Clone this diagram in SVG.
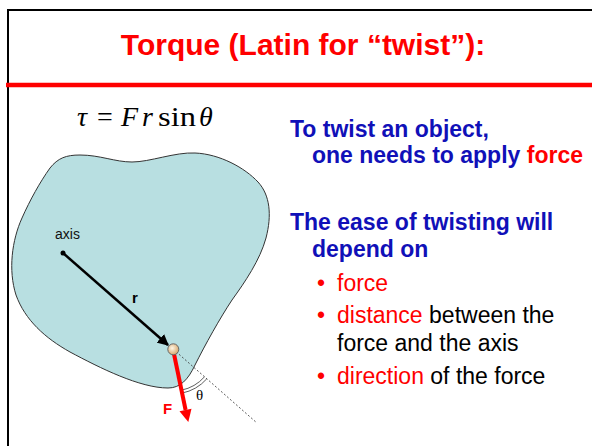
<svg xmlns="http://www.w3.org/2000/svg" width="592" height="446" viewBox="0 0 592 446">
  <style>
    .title { font-family: "Liberation Sans", Arial, sans-serif; font-weight: bold; font-size: 30px; fill: #ff0000; }
    .math { font-family: "Liberation Serif", "Times New Roman", serif; font-size: 28px; fill: #000; }
    .it { font-style: italic; }
    .bt { font-family: "Liberation Sans", Arial, sans-serif; font-weight: bold; font-size: 23px; fill: #1010b8; }
    .rt { font-family: "Liberation Sans", Arial, sans-serif; font-size: 23px; fill: #000; }
    .red { fill: #ff0000; }
    .lbl { font-family: "Liberation Sans", Arial, sans-serif; font-size: 14px; fill: #111; }
    .blbl { font-family: "Liberation Sans", Arial, sans-serif; font-weight: bold; font-size: 15px; }
  </style>
  <defs>
    <marker id="ah" viewBox="0 0 10 10" refX="9" refY="5" markerWidth="4.5" markerHeight="4.5" orient="auto">
      <path d="M0,0 L10,5 L0,10 z" fill="#000"/>
    </marker>
    <radialGradient id="pt" cx="40%" cy="40%" r="60%">
      <stop offset="0" stop-color="#fff6e6"/>
      <stop offset="1" stop-color="#d8aa70"/>
    </radialGradient>
  </defs>
  <rect width="592" height="446" fill="#fff"/>
  <!-- slide frame -->
  <rect x="8" y="10" width="600" height="460" fill="none" stroke="#000" stroke-width="2"/>
  <line x1="6" y1="85" x2="592" y2="85" stroke="#ff0000" stroke-width="4.5"/>
  <text class="title" x="303" y="55" text-anchor="middle">Torque (Latin for “twist”):</text>

  <!-- formula -->
  <g id="formula" class="math">
    <text x="77" y="126" class="it">τ</text>
    <text x="97" y="126">=</text>
    <text x="121" y="126" class="it">F</text>
    <text x="142" y="126" class="it">r</text>
    <text x="158" y="126" textLength="38" lengthAdjust="spacingAndGlyphs">sin</text>
    <text x="199" y="126" class="it">θ</text>
  </g>

  <!-- body -->
  <g id="body">
    <path d="M 50,168 C 58,158 66,155 80,155 C 100,155 115,162 132,162 C 150,162 175,152 195,153 C 220,154 245,168 258,182 C 270,195 272,215 266,238 C 260,260 245,282 232,300 C 220,318 205,345 195,365 C 188,380 180,388 168,388 C 140,388 100,368 70,352 C 45,338 25,320 16,295 C 8,270 12,240 22,218 C 30,200 40,182 50,168 Z" fill="#b8dfe1" stroke="#333" stroke-width="1"/>
  </g>

  <g id="axis">
    <circle cx="63" cy="253" r="2.5" fill="#000"/>
    <text class="lbl" x="55" y="239">axis</text>
  </g>

  <g id="connectors">
    <line x1="63" y1="253" x2="168" y2="345" stroke="#000" stroke-width="2.5" marker-end="url(#ah)"/>
    <line x1="173" y1="349" x2="257" y2="423" stroke="#333" stroke-width="0.8" stroke-dasharray="2,2"/>
    <path d="M 204.5,376.8 A 42 42 0 0 1 181.3,390.2" fill="none" stroke="#333" stroke-width="0.8"/>
    <path d="M 206.8,378.8 A 45 45 0 0 1 181.9,393.1" fill="none" stroke="#333" stroke-width="0.8"/>
    <line x1="174" y1="354" x2="185.6" y2="410" stroke="#ff0000" stroke-width="4"/>
    <polygon points="188.3,422 191.5,408.8 179.5,411.2" fill="#ff0000"/>
  </g>

  <g id="point">
    <circle cx="173.3" cy="349.3" r="5.5" fill="url(#pt)" stroke="#666" stroke-width="1"/>
  </g>

  <text class="blbl" x="132" y="303" fill="#000">r</text>
  <text class="blbl" x="163" y="414" fill="#ff0000">F</text>
  <text class="math" x="196" y="400" style="font-size:15px">θ</text>

  <!-- right text -->
  <g id="text">
    <text class="bt" x="290" y="137">To twist an object,</text>
    <text class="bt" x="312" y="163">one needs to apply <tspan class="red">force</tspan></text>
    <text class="bt" x="290" y="230">The ease of twisting will</text>
    <text class="bt" x="312" y="257">depend on</text>
    <text class="rt red" x="317" y="291">•</text>
    <text class="rt red" x="337" y="291">force</text>
    <text class="rt red" x="317" y="323">•</text>
    <text class="rt" x="337" y="323"><tspan class="red">distance</tspan> between the</text>
    <text class="rt" x="337" y="351">force and the axis</text>
    <text class="rt red" x="317" y="384">•</text>
    <text class="rt" x="337" y="384"><tspan class="red">direction</tspan> of the force</text>
  </g>
</svg>
